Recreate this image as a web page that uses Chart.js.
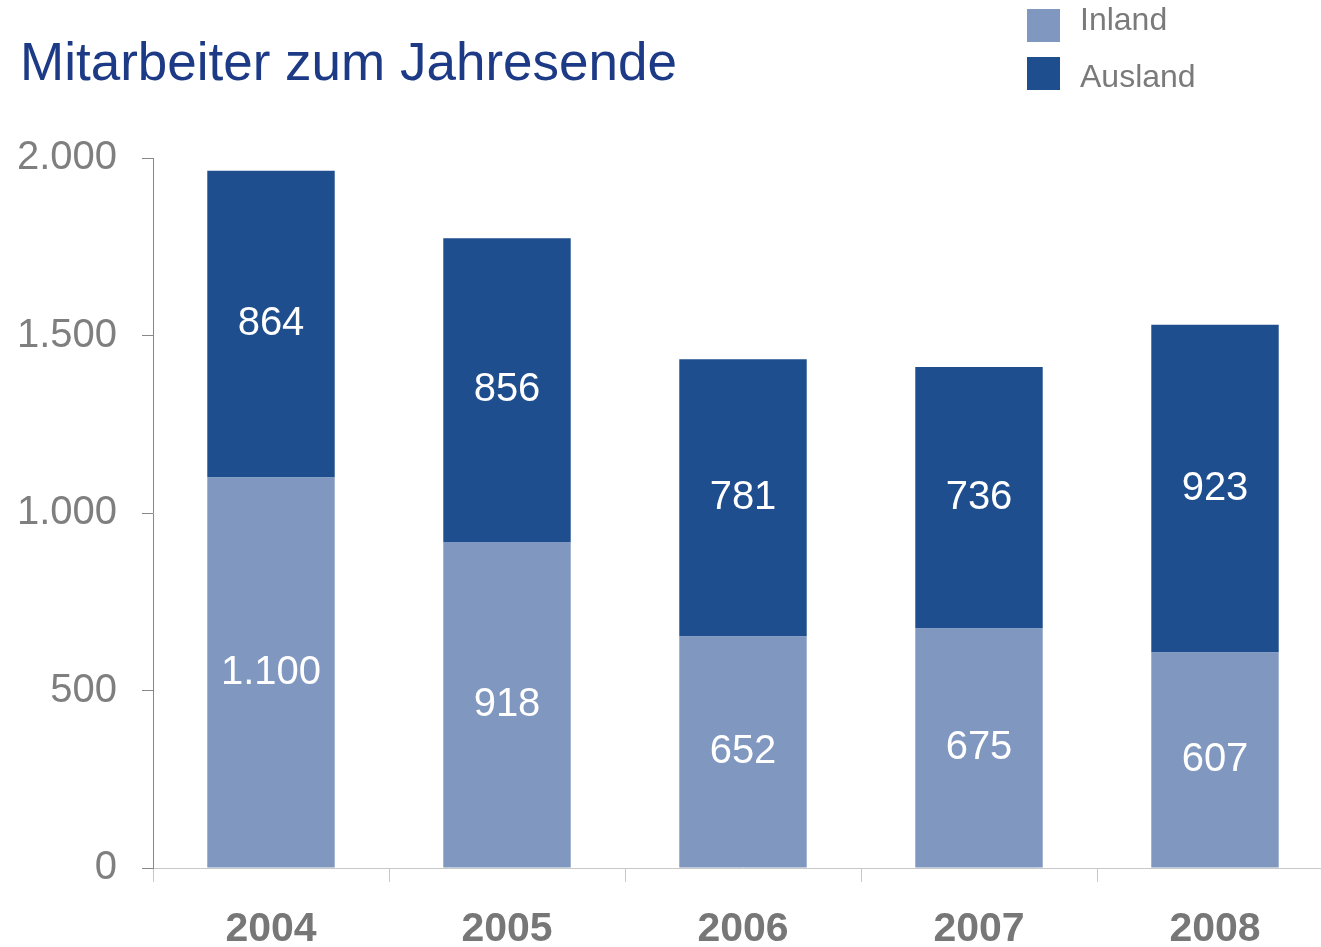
<!DOCTYPE html>
<html>
<head>
<meta charset="utf-8">
<script src="https://cdn.jsdelivr.net/npm/chart.js@4/dist/chart.umd.min.js"></script>
<style>
    html, body { margin: 0; padding: 0; background: #fff; overflow: hidden; }
    #wrap { position: relative; width: 1345px; height: 947px; }
</style>
</head>
<body>
<div id="wrap"><canvas id="staffChart" width="1345" height="947"></canvas></div>
<script>
const years = ['2004', '2005', '2006', '2007', '2008'];
const inland = [1100, 918, 652, 675, 607];
const ausland = [864, 856, 781, 736, 923];
const yTicks = [0, 500, 1000, 1500, 2000];

const chartTitle = 'Mitarbeiter zum Jahresende';
const fontFamily = '"Liberation Sans", Arial, sans-serif';

function formatDe(v) {
    return String(v).replace(/\B(?=(\d{3})+(?!\d))/g, '.');
}

// title + legend in the top area
const headerPlugin = {
    id: 'header',
    afterDraw(chart) {
        const ctx = chart.ctx;
        ctx.save();
        ctx.fillStyle = '#1d3a86';
        ctx.font = '53px ' + fontFamily;
        ctx.textAlign = 'left';
        ctx.textBaseline = 'alphabetic';
        ctx.fillText(chartTitle, 20, 80);

        ctx.font = '32px ' + fontFamily;
        ctx.textBaseline = 'middle';
        chart.data.datasets.forEach((ds, i) => {
            ctx.fillStyle = ds.backgroundColor;
            ctx.fillRect(1027, 9 + i * 48, 33, 33);
            ctx.fillStyle = '#7a7a7a';
            ctx.fillText(ds.label, 1080, 21 + i * 57);
        });
        ctx.restore();
    }
};

// white value labels inside each segment
const valueLabels = {
    id: 'valueLabels',
    afterDatasetsDraw(chart) {
        const ctx = chart.ctx;
        ctx.save();
        ctx.fillStyle = '#ffffff';
        ctx.font = '40px ' + fontFamily;
        ctx.textAlign = 'center';
        ctx.textBaseline = 'middle';
        chart.data.datasets.forEach((ds, i) => {
            chart.getDatasetMeta(i).data.forEach((bar, j) => {
                const mid = (bar.y + bar.base) / 2;
                ctx.fillText(formatDe(ds.data[j]), bar.x, mid);
            });
        });
        ctx.restore();
    }
};

const canvas = document.getElementById('staffChart');
const staffChart = new Chart(canvas, {
    type: 'bar',
    data: {
        labels: years,
        datasets: [{
            label: 'Inland',
            data: inland,
            backgroundColor: '#8097c0'
        }, {
            label: 'Ausland',
            data: ausland,
            backgroundColor: '#1f4e8f'
        }]
    },
    options: {
        responsive: false,
        animation: false,
        layout: { padding: { top: 158, right: 12, left: 0, bottom: 0 } },
        datasets: {
            bar: { categoryPercentage: 0.54, barPercentage: 1 }
        },
        plugins: {
            legend: { display: false },
            title: { display: false },
            tooltip: { enabled: false }
        },
        scales: {
            x: {
                stacked: true,
                afterFit(scale) { scale.height = 79; },
                border: { color: '#c8c8c8', width: 1 },
                grid: {
                    offset: true,
                    drawOnChartArea: false,
                    drawTicks: true,
                    tickLength: 14,
                    tickColor: '#c8c8c8'
                },
                ticks: {
                    color: '#777777',
                    padding: 23,
                    font: { family: fontFamily, size: 41, weight: 'bold' }
                }
            },
            y: {
                stacked: true,
                min: 0,
                max: 2000,
                afterFit(scale) { scale.width = 153; },
                afterBuildTicks(scale) {
                    scale.ticks = yTicks.map(v => ({ value: v }));
                },
                border: { color: '#888888', width: 1 },
                grid: {
                    drawOnChartArea: false,
                    drawTicks: true,
                    tickLength: 11,
                    tickColor: '#888888'
                },
                ticks: {
                    color: '#7f7f7f',
                    padding: 25,
                    font: { family: fontFamily, size: 40 },
                    callback: v => formatDe(v)
                }
            }
        }
    },
    plugins: [headerPlugin, valueLabels]
});
</script>
</body>
</html>
